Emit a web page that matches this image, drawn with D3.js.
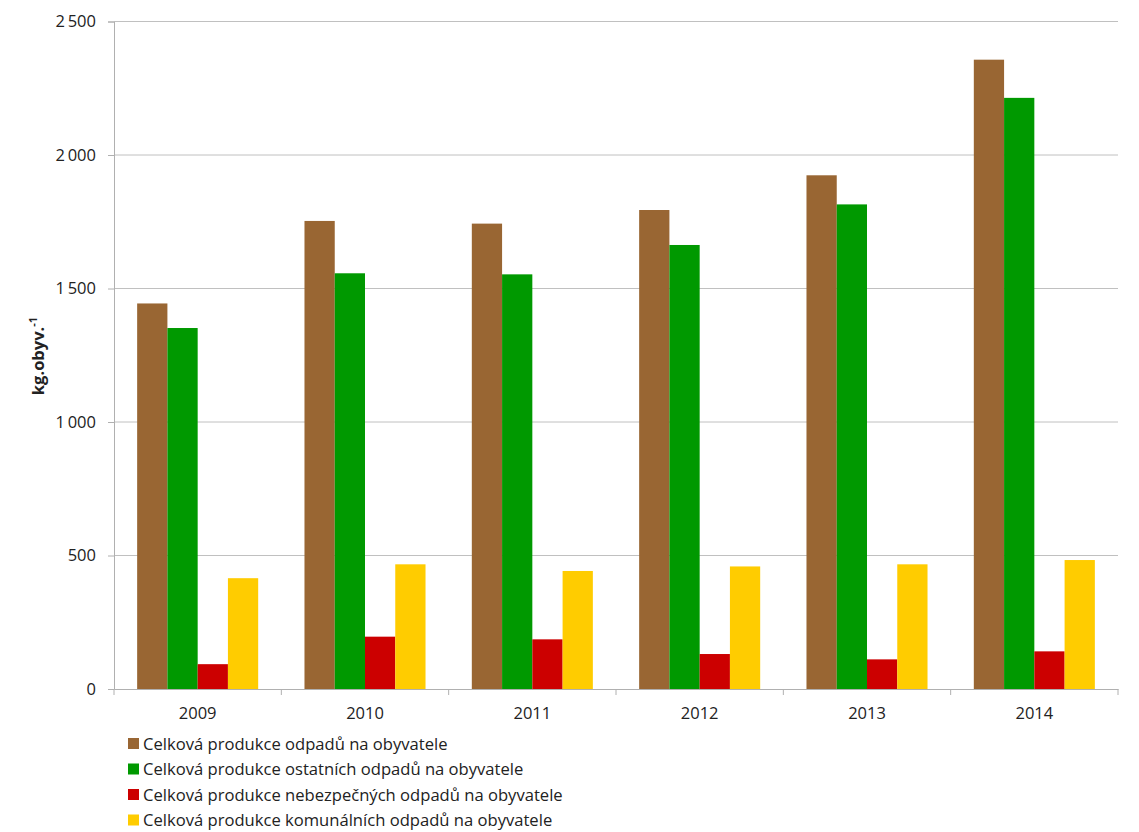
<!DOCTYPE html>
<html><head><meta charset="utf-8">
<script src="https://cdn.jsdelivr.net/npm/d3@7"></script>
<style>body{margin:0;background:#fff}svg{display:block}text{font-family:"Open Sans","Liberation Sans",sans-serif;fill:#222}</style>
</head><body><svg id="c" width="1139" height="832"></svg>
<script>
const years = ["2009","2010","2011","2012","2013","2014"];
const seriesNames = [
  "Celková produkce odpadů na obyvatele",
  "Celková produkce ostatních odpadů na obyvatele",
  "Celková produkce nebezpečných odpadů na obyvatele",
  "Celková produkce komunálních odpadů na obyvatele"
];
const total     = [1444, 1753, 1743, 1794, 1924, 2357];
const other     = [1352, 1557, 1553, 1663, 1815, 2214];
const hazardous = [93, 196, 186, 131, 111, 141];
const municipal = [415, 467, 442, 459, 467, 483];
const yTicks = [0, 500, 1000, 1500, 2000, 2500];
const colors = ["#996633", "#009900", "#cc0000", "#ffcc00"];
const seriesValues = [total, other, hazardous, municipal];

const svg = d3.select("#c");
const m = {l:114, r:1118, t:21.5, b:689};
const x = d3.scaleBand().domain(years).range([m.l, m.r]).paddingInner(0).paddingOuter(0);
const inner = d3.scaleBand().domain(d3.range(4)).range([0, x.bandwidth()]).paddingOuter(0.765).paddingInner(0);
const y = d3.scaleLinear().domain([0, 2500]).range([m.b, m.t]);
const fmt = v => d3.format(",")(v).replace(/,/g, "\u2009");

// gridlines
svg.append("g").selectAll("line").data(yTicks.filter(t=>t>0)).join("line")
  .attr("x1", m.l).attr("x2", m.r).attr("y1", d=>y(d)).attr("y2", d=>y(d))
  .attr("stroke", "#c0c0c0").attr("stroke-width", 1);

// y axis
const ya = svg.append("g").attr("transform", `translate(${m.l},0)`)
  .call(d3.axisLeft(y).tickValues(yTicks).tickSize(6).tickPadding(12).tickFormat(d => d===0?"0":fmt(d)));
ya.select(".domain").attr("stroke", "#b0b0b0");
ya.selectAll(".tick line").attr("stroke", "#b0b0b0");
ya.selectAll("text").style("font-size", "16.5px").attr("fill", "#222");

// x axis
const xa = svg.append("g").attr("transform", `translate(0,${m.b})`)
  .call(d3.axisBottom(x).tickSize(0).tickPadding(18));
xa.select(".domain").attr("stroke", "#b0b0b0");
xa.selectAll("text").style("font-size", "16.5px").attr("fill", "#222");
// category boundary ticks
svg.append("g").selectAll("line").data(years.map(d=>x(d)).concat([m.r])).join("line")
  .attr("x1", d=>d).attr("x2", d=>d).attr("y1", m.b).attr("y2", m.b+6)
  .attr("stroke", "#b0b0b0");

// bars
const groups = svg.append("g").selectAll("g").data(years).join("g")
  .attr("transform", d => `translate(${x(d)},0)`);
groups.selectAll("rect").data((d,i) => seriesValues.map((s,k)=>({k, v:s[i]}))).join("rect")
  .attr("x", d => inner(d.k)).attr("width", inner.bandwidth())
  .attr("y", d => y(d.v)).attr("height", d => y(0)-y(d.v))
  .attr("fill", d => colors[d.k]);

// y title
const yt = svg.append("text").attr("transform", "translate(44,356) rotate(-90)")
  .attr("text-anchor", "middle").style("font-size", "16.5px").style("font-weight", "bold");
yt.append("tspan").text("kg.obyv.");
yt.append("tspan").attr("dy", -7).style("font-size", "11px").text("-1");

// legend
const lg = svg.append("g").selectAll("g").data(seriesNames).join("g")
  .attr("transform", (d,i) => `translate(128,${744 + i*25.5})`);
lg.append("rect").attr("x", 0).attr("y", -6).attr("width", 11).attr("height", 11).attr("fill", (d,i)=>colors[i]);
lg.append("text").attr("x", 15).attr("y", 0).attr("dy", "0.35em").style("font-size", "16.6px").text(d=>d);
</script></body></html>
